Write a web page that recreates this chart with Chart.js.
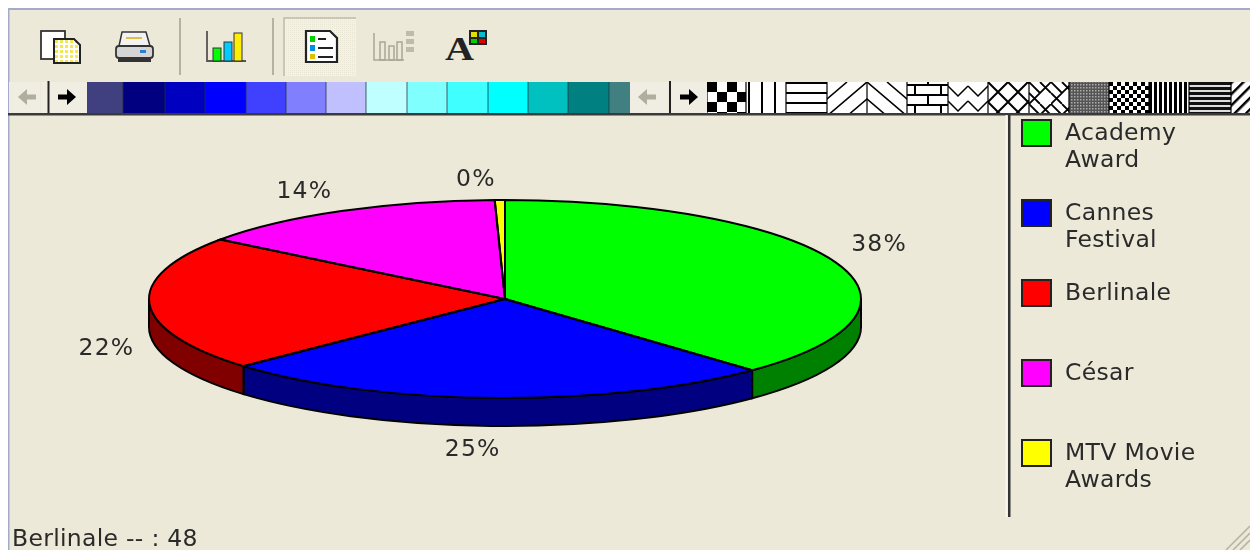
<!DOCTYPE html>
<html><head><meta charset="utf-8">
<script src="https://cdn.jsdelivr.net/npm/chart.js@4"></script>
<style>
html,body{margin:0;padding:0;background:#fff;overflow:hidden}
#wrap{position:relative;width:1250px;height:550px;filter:blur(0.7px)}
#wrap svg,#wrap canvas{position:absolute;left:0;top:0}
</style></head><body>
<div id="wrap">
<svg id="chrome" width="1250" height="550" xmlns="http://www.w3.org/2000/svg">
<defs>
<pattern id="p0" width="20" height="20" patternUnits="userSpaceOnUse" x="707" y="82"><rect width="20" height="20" fill="#fff"/><rect width="10" height="10" fill="#000"/><rect x="10" y="10" width="10" height="10" fill="#000"/></pattern>
<pattern id="p1" width="13" height="13" patternUnits="userSpaceOnUse" x="748" y="82"><rect width="13" height="13" fill="#fff"/><rect width="2" height="13" fill="#000"/></pattern>
<pattern id="p2" width="13" height="10" patternUnits="userSpaceOnUse" y="82"><rect width="13" height="10" fill="#fff"/><rect width="13" height="2" fill="#000"/></pattern>
<pattern id="p3" width="40" height="34" patternUnits="userSpaceOnUse" x="827" y="82"><rect width="40" height="34" fill="#fff"/><path d="M0 34L40 0M-20 34L20 0M20 34L60 0" stroke="#000" stroke-width="1.6"/></pattern>
<pattern id="p4" width="40" height="34" patternUnits="userSpaceOnUse" x="867" y="82"><rect width="40" height="34" fill="#fff"/><path d="M0 0L40 34M-20 0L20 34M20 0L60 34" stroke="#000" stroke-width="1.6"/></pattern>
<pattern id="p5" width="26" height="20" patternUnits="userSpaceOnUse" x="907" y="84"><rect width="26" height="20" fill="#fff"/><path d="M0 1H26M0 11H26M8 1V11M21 11V20" stroke="#000" stroke-width="2"/></pattern>
<pattern id="p6" width="20" height="15" patternUnits="userSpaceOnUse" x="948" y="84"><rect width="20" height="15" fill="#fff"/><path d="M0 2L10 12L20 2" stroke="#000" stroke-width="1.5" fill="none"/></pattern>
<pattern id="p7" width="20" height="20" patternUnits="userSpaceOnUse" x="988" y="82"><rect width="20" height="20" fill="#fff"/><path d="M0 0L20 20M20 0L0 20" stroke="#000" stroke-width="2"/></pattern>
<pattern id="p8" width="22" height="22" patternUnits="userSpaceOnUse" x="1029" y="82"><rect width="22" height="22" fill="#fff"/><path d="M0 22L22 0M0 0L11 11M0 11L11 22M11 0L22 11" stroke="#000" stroke-width="1.8"/></pattern>
<pattern id="p9" width="3" height="3" patternUnits="userSpaceOnUse"><rect width="3" height="3" fill="#555"/><rect width="1.5" height="1.5" fill="#aaa"/></pattern>
<pattern id="p10" width="8" height="8" patternUnits="userSpaceOnUse" x="1109" y="82"><rect width="8" height="8" fill="#fff"/><rect width="4" height="4" fill="#000"/><rect x="4" y="4" width="4" height="4" fill="#000"/></pattern>
<pattern id="p11" width="5" height="5" patternUnits="userSpaceOnUse" x="1149"><rect width="5" height="5" fill="#fff"/><rect width="3" height="5" fill="#000"/></pattern>
<pattern id="p12" width="5" height="5" patternUnits="userSpaceOnUse" y="82"><rect width="5" height="5" fill="#ddd"/><rect width="5" height="3" fill="#111"/></pattern>
<pattern id="p13" width="8" height="8" patternUnits="userSpaceOnUse" patternTransform="rotate(45)"><rect width="8" height="8" fill="#fff"/><rect width="2.5" height="8" fill="#000"/></pattern>
<pattern id="pd" width="2" height="2" patternUnits="userSpaceOnUse"><rect width="2" height="2" fill="#f4f2e8"/><rect width="1" height="1" fill="#e9e6d6"/></pattern>
<pattern id="py" width="5" height="5" patternUnits="userSpaceOnUse"><rect width="5" height="5" fill="#fff"/><rect width="3" height="3" fill="#f4e850"/></pattern>
</defs>
<rect width="1250" height="550" fill="#fff"/>
<rect x="8" y="8" width="1242" height="542" fill="#ECE9D8"/>
<rect x="8" y="8" width="1242" height="2" fill="#a3abc9"/>
<rect x="8" y="8" width="1.5" height="542" fill="#a3abc9"/>
<rect x="179" y="18" width="2" height="57" fill="#b5b2a3"/>
<rect x="272" y="18" width="2" height="57" fill="#b5b2a3"/>
<rect x="284" y="18" width="72" height="58" fill="url(#pd)"/>
<path d="M284 76V18H356" stroke="#bdbaab" stroke-width="1.5" fill="none"/>
<!-- copy -->
<rect x="41" y="31" width="24" height="28" fill="#fff" stroke="#333" stroke-width="1.8"/>
<path d="M54 39H74L80 45V63H54Z" fill="url(#py)" stroke="#222" stroke-width="2"/>
<!-- print -->
<path d="M122 32H146L150 46H119Z" fill="#f2f2f2" stroke="#333" stroke-width="1.5"/>
<rect x="116" y="46" width="37" height="12" rx="3" fill="#d5d5d5" stroke="#333" stroke-width="1.8"/>
<rect x="118" y="59" width="33" height="3" fill="#333"/><rect x="140" y="50" width="6" height="3" fill="#2a80d0"/>
<rect x="126" y="37" width="16" height="2" fill="#e0c040"/>
<!-- bars -->
<path d="M207 31V61H246" stroke="#555" stroke-width="1.8" fill="none"/>
<rect x="213" y="48" width="8" height="13" fill="#00ff00" stroke="#333"/>
<rect x="224" y="42" width="8" height="19" fill="#00ccff" stroke="#333"/>
<rect x="234" y="33" width="8" height="28" fill="#ffee00" stroke="#333"/>
<!-- list -->
<path d="M306 31H330L337 38V62H306Z" fill="#fff" stroke="#222" stroke-width="2.2"/>
<rect x="310" y="36" width="5" height="6" fill="#00d000"/><rect x="310" y="45" width="5" height="6" fill="#0090e0"/><rect x="310" y="54" width="5" height="5" fill="#e0c000"/>
<path d="M318 39H326M318 48H333M318 57H333" stroke="#222" stroke-width="2"/>
<!-- grey bars -->
<g fill="none" stroke="#a9a799" stroke-width="1.5"><path d="M374 33V60H404"/><rect x="380" y="42" width="5" height="18"/><rect x="389" y="46" width="5" height="14"/><rect x="397" y="42" width="5" height="18"/></g>
<rect x="406" y="31" width="8" height="5" fill="#bdbbad"/><rect x="406" y="39" width="8" height="5" fill="#bdbbad"/><rect x="406" y="47" width="8" height="5" fill="#bdbbad"/>
<!-- A -->
<text x="445" y="60" font-family="Liberation Serif" font-weight="bold" font-size="33" fill="#222" textLength="29" lengthAdjust="spacingAndGlyphs">A</text>
<rect x="469" y="30" width="18" height="15" fill="#222"/>
<rect x="471" y="32" width="6" height="5" fill="#e0e000"/><rect x="479" y="32" width="6" height="5" fill="#00c0d0"/><rect x="471" y="39" width="6" height="4" fill="#00d000"/><rect x="479" y="39" width="6" height="4" fill="#e00000"/>
<!-- palette strip -->
<g id="strip"></g>
<rect x="8" y="113" width="1242" height="2.5" fill="#3a3a3a"/>
<rect x="1008" y="115" width="2.5" height="402" fill="#333"/>
<rect x="1005.5" y="115" width="2" height="402" fill="#f8f7ef"/>
<path d="M1226 550L1250 526M1233 550L1250 533M1240 550L1250 540" stroke="#b8b5a5" stroke-width="1.6"/>
</svg>
<canvas id="c" width="1250" height="550"></canvas>
</div>
<script>
// ---- data ----
const categories = [["Academy","Award"],["Cannes","Festival"],["Berlinale"],["César"],["MTV Movie","Awards"]];
const values = [82, 55, 48, 31, 1];
const faceColors = ["#00ff00","#0000ff","#ff0000","#ff00ff","#ffff00"];
const sideColors = ["#008000","#000080","#800000","#800080","#808000"];
const statusIndex = 2;

// ---- toolbar swatches ----
const paletteColors = ["#404080","#000080","#0000c0","#0000ff","#4040ff","#8080ff","#c0c0ff","#c0ffff","#80ffff","#40ffff","#00ffff","#00c0c0","#008080","#408080"];
const paletteEdges = [87,123,165,205,246,286,326,366,407,447,488,528,568,609,630];
const patternEdges = [707,746,786,827,867,907,948,988,1029,1069,1109,1149,1189,1231,1250];
(function(){
  const g=document.getElementById('strip');const NS='http://www.w3.org/2000/svg';
  const el=(n,a)=>{const e=document.createElementNS(NS,n);for(const k in a)e.setAttribute(k,a[k]);g.appendChild(e);return e;};
  paletteColors.forEach((c,i)=>{el('rect',{x:paletteEdges[i],y:82,width:paletteEdges[i+1]-paletteEdges[i],height:31,fill:c});
    if(i)el('rect',{x:paletteEdges[i]-0.7,y:82,width:1.4,height:31,fill:'#203040','fill-opacity':.55});});
  patternEdges.slice(0,-1).forEach((x,i)=>{el('rect',{x:x,y:82,width:patternEdges[i+1]-x,height:31,fill:'url(#p'+i+')'});
    el('rect',{x:x-0.6,y:82,width:1.2,height:31,fill:'#000'});});
  const arrow=(cx,dir,col)=>el('path',{d:`M${cx-9*dir} 94.5H${cx} V89L${cx+9*dir} 97L${cx} 105V99.5H${cx-9*dir}Z`,fill:col});
  el('rect',{x:9,y:82,width:31,height:31,fill:'#f0eee2'});
  el('rect',{x:41,y:82,width:31,height:31,fill:'#f0eee2'});
  el('rect',{x:72,y:82,width:15,height:31,fill:'#f0eee2'});
  el('rect',{x:630,y:82,width:38,height:31,fill:'#f0eee2'});
  el('rect',{x:669,y:82,width:38,height:31,fill:'#f0eee2'});
  el('rect',{x:47.5,y:81,width:2,height:32,fill:'#222'});
  el('rect',{x:669,y:81,width:2,height:32,fill:'#222'});
  arrow(27,-1,'#b0ae9f');arrow(67,1,'#000');arrow(647,-1,'#b0ae9f');arrow(689,1,'#000');
})();

// ---- chart ----
const CX=505, CY=299, R=200, RX=356, RY=99, DEPTH=28;
const total = values.reduce((a,b)=>a+b,0);
const labelFont = '23.5px "DejaVu Sans"';
const labelNudge = [[44,-17],[-22,52],[-43,45],[-37,-19],[-24,-20]];
const textColor = '#2a2a2a';

const pie3d = {
  id:'pie3d',
  beforeDatasetsDraw(chart){
    const ctx=chart.ctx, arcs=chart.getDatasetMeta(0).data;
    ctx.save();
    arcs.forEach((a,i)=>{
      const s=Math.max(a.startAngle,0), e=Math.min(a.endAngle,Math.PI);
      if(e<=s) return;
      ctx.beginPath();
      ctx.ellipse(a.x,a.y,RX,RY,0,s,e);
      ctx.ellipse(a.x,a.y+DEPTH,RX,RY,0,e,s,true);
      ctx.closePath();
      ctx.fillStyle=sideColors[i];ctx.fill();
      ctx.lineWidth=2;ctx.strokeStyle='#000';ctx.stroke();
    });
    ctx.restore();
  },
  beforeDatasetDraw(chart){
    const ctx=chart.ctx,a=chart.getDatasetMeta(0).data[0];
    ctx.save();
    ctx.translate(a.x,a.y);ctx.scale(RX/a.outerRadius,RY/a.outerRadius);ctx.translate(-a.x,-a.y);
  },
  afterDatasetDraw(chart){
    const ctx=chart.ctx,arcs=chart.getDatasetMeta(0).data;
    ctx.restore();
    ctx.save();
    arcs.forEach(a=>{
      ctx.beginPath();
      ctx.moveTo(a.x,a.y);
      ctx.ellipse(a.x,a.y,RX,RY,0,a.startAngle,a.endAngle);
      ctx.closePath();
      ctx.lineWidth=2;ctx.strokeStyle='#000';ctx.stroke();
    });
    ctx.font=labelFont;ctx.fillStyle=textColor;ctx.textAlign='center';ctx.textBaseline='middle';
    ctx.letterSpacing='1.2px';
    arcs.forEach((a,i)=>{
      const m=(a.startAngle+a.endAngle)/2;
      const x=a.x+RX*Math.cos(m)+labelNudge[i][0], y=a.y+RY*Math.sin(m)+labelNudge[i][1];
      ctx.fillText(Math.round(values[i]/total*100)+'%',x,y);
    });
    // legend
    const legendY=[120,200,280,360,440];
    ctx.textAlign='left';
    ctx.letterSpacing='0.3px';
    categories.forEach((lines,i)=>{
      ctx.fillStyle=faceColors[i];ctx.fillRect(1022,legendY[i],29,26);
      ctx.lineWidth=2;ctx.strokeStyle='#222';ctx.strokeRect(1022,legendY[i],29,26);
      ctx.fillStyle=textColor;
      lines.forEach((t,j)=>ctx.fillText(t,1065,legendY[i]+14+27*j));
    });
    // status bar
    ctx.fillText(categories[statusIndex][0]+' -- : '+values[statusIndex],12,540);
    ctx.restore();
  }
};

new Chart(document.getElementById('c'),{
  type:'pie',
  data:{labels:categories.map(l=>l.join(' ')),datasets:[{data:values,backgroundColor:faceColors,borderWidth:0}]},
  options:{
    responsive:false,animation:false,
    layout:{padding:{left:CX-R,right:1250-CX-R,top:CY-R,bottom:550-CY-R}},
    plugins:{legend:{display:false},tooltip:{enabled:false},title:{display:false}}
  },
  plugins:[pie3d]
});
</script>
</body></html>
